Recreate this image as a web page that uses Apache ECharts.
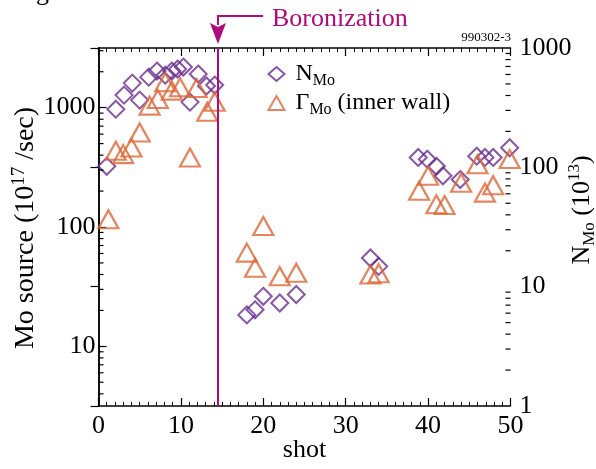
<!DOCTYPE html>
<html>
<head>
<meta charset="utf-8">
<script src="https://cdn.jsdelivr.net/npm/echarts@6/dist/echarts.min.js"></script>
<style>
  html, body { margin: 0; padding: 0; background: #fff; }
  #chart { width: 596px; height: 469px; }
</style>
</head>
<body>
<div id="chart"></div>
<script>
// N_Mo, right axis (10^13)
const nShot = [1.0, 2.1, 3.1, 4.1, 5.0, 6.1, 7.1, 8.1, 8.9, 9.6, 10.3, 11.1, 12.1, 13.1, 14.1,
  18.0, 19.0, 20.0, 22.0, 24.0, 33.0, 34.0,
  38.8, 39.9, 41.0, 41.8, 43.9, 45.9, 46.9, 47.9, 49.9];
const nMo = [102, 307, 403, 508, 366, 570, 641, 593, 641, 666, 692, 352, 605, 480, 489,
  5.8, 6.4, 8.3, 7.3, 8.6, 17.4, 14.8,
  121, 117, 102, 85, 79, 124, 121, 121, 146];

// Gamma_Mo (inner wall), left axis (10^17 /sec)
const gShot = [1.2, 2.1, 3.0, 4.0, 5.0, 6.2, 7.2, 8.1, 8.9, 9.9, 11.1, 11.9, 13.2, 14.1,
  18.0, 19.0, 20.0, 22.0, 24.0, 33.0, 34.0,
  38.9, 40.0, 41.0, 42.0, 44.0, 46.0, 46.9, 47.9, 49.9];
const gMo = [116, 435, 408, 463, 620, 1040, 1183, 1633, 1390, 1483, 382, 1460, 925, 1122,
  61, 45.5, 102, 38.7, 41.3, 40, 41,
  201, 269, 155, 153, 235, 336, 194, 224, 371];

const boronShot = 14.5;

// log minor tick positions
const leftMinor = [4, 5, 6, 7, 8, 9, 20, 30, 40, 50, 60, 70, 80, 90,
  200, 300, 400, 500, 600, 700, 800, 900, 2000, 3000];
const rightMinor = [2, 3, 4, 5, 6, 7, 8, 9, 20, 30, 40, 50, 60, 70, 80, 90,
  200, 300, 400, 500, 600, 700, 800, 900];

const SERIF = '"Liberation Serif", "DejaVu Serif", serif';
const PURPLE = '#6a2c8e';
const ORANGE = '#dd6636';
const MAGENTA = '#b00a7d';

const zip = (xs, ys) => xs.map((x, i) => [x, ys[i]]);
const isPow10 = v => Math.abs(Math.log10(v) - Math.round(Math.log10(v))) < 1e-6;
const logLabel = v => (isPow10(v) ? String(Math.round(v)) : '');

const tickStyle = { inside: true, length: 8, lineStyle: { color: '#000', width: 1.2 } };
const lineStyle = { show: true, lineStyle: { color: '#000', width: 1.5 } };
const labelStyle = { color: '#000', fontSize: 26, fontFamily: SERIF };

function minorTicks(xEdge, dir, yIdx, values) {
  return {
    type: 'custom',
    silent: true,
    xAxisIndex: 0,
    yAxisIndex: yIdx,
    z: 3,
    data: values.map(v => [xEdge, v]),
    renderItem: (params, api) => {
      const p = api.coord([api.value(0), api.value(1)]);
      return {
        type: 'line',
        shape: { x1: p[0], y1: p[1], x2: p[0] + dir * 5, y2: p[1] },
        style: { stroke: '#000', lineWidth: 1.2 }
      };
    }
  };
}

const xAxisBase = {
  type: 'value', min: 0, max: 50, interval: 10,
  axisLine: lineStyle,
  axisTick: tickStyle,
  minorTick: { show: true, splitNumber: 10, length: 4, lineStyle: { color: '#000', width: 1 } },
  splitLine: { show: false }
};

const option = {
  backgroundColor: '#fff',
  animation: false,
  grid: { left: 98.5, right: 85.5, top: 48, bottom: 63, containLabel: false, outerBoundsMode: 'none' },
  legend: {
    orient: 'vertical',
    left: 261,
    top: 57,
    itemGap: 2,
    itemWidth: 16,
    itemHeight: 14,
    data: ['N_Mo', 'Γ_Mo (inner wall)'],
    formatter: name => name === 'N_Mo' ? '{m|N}{s|Mo}' : '{m|Γ}{s|Mo}{m| (inner wall)}',
    textStyle: {
      padding: [0, 0, 0, 6],
      rich: {
        m: { fontSize: 24, fontFamily: SERIF, color: '#000', lineHeight: 30 },
        s: { fontSize: 16, fontFamily: SERIF, color: '#000', verticalAlign: 'bottom', lineHeight: 18 }
      }
    }
  },
  xAxis: [
    Object.assign({}, xAxisBase, {
      position: 'bottom',
      axisLabel: Object.assign({ margin: 7 }, labelStyle),
      name: 'shot',
      nameLocation: 'middle',
      nameGap: 31,
      nameMoveOverlap: false,
      nameTextStyle: labelStyle
    }),
    Object.assign({}, xAxisBase, {
      position: 'top',
      axisLabel: { show: false }
    })
  ],
  yAxis: [
    {
      type: 'log', logBase: 10, min: 3.1623, max: 3162.3,
      position: 'left',
      axisLine: lineStyle,
      axisTick: tickStyle,
      splitLine: { show: false },
      axisLabel: Object.assign({ margin: 3, formatter: logLabel, showMinLabel: false, showMaxLabel: false }, labelStyle),
      name: '{a|Mo source (10}{p|17}{a| /sec)}',
      nameLocation: 'middle',
      nameGap: 57,
      nameMoveOverlap: false,
      nameTextStyle: {
        padding: [0, 2, 0, 0],
        rich: {
          a: { fontSize: 28, fontFamily: SERIF, color: '#000', lineHeight: 32 },
          p: { fontSize: 19, fontFamily: SERIF, color: '#000', verticalAlign: 'top', lineHeight: 18 }
        }
      }
    },
    {
      type: 'log', logBase: 10, min: 1, max: 1000,
      position: 'right',
      axisLine: lineStyle,
      axisTick: tickStyle,
      splitLine: { show: false },
      axisLabel: Object.assign({ margin: 9, formatter: logLabel }, labelStyle),
      name: '{a|N}{b|Mo}{a| (10}{p|13}{a|)}',
      nameLocation: 'middle',
      nameGap: 56,
      nameMoveOverlap: false,
      nameTextStyle: {
        padding: [0, 0, 0, 34],
        rich: {
          a: { fontSize: 26, fontFamily: SERIF, color: '#000', lineHeight: 32 },
          b: { fontSize: 17, fontFamily: SERIF, color: '#000', verticalAlign: 'bottom', lineHeight: 18 },
          p: { fontSize: 17, fontFamily: SERIF, color: '#000', verticalAlign: 'top', lineHeight: 18 }
        }
      }
    }
  ],
  series: [
    {
      name: 'N_Mo',
      type: 'scatter',
      xAxisIndex: 0,
      yAxisIndex: 1,
      symbol: 'diamond',
      symbolSize: 17,
      itemStyle: { color: 'none', borderColor: PURPLE, borderWidth: 2 },
      data: zip(nShot, nMo),
      markLine: {
        silent: true,
        symbol: ['none', 'none'],
        label: { show: false },
        lineStyle: { color: MAGENTA, width: 2, type: 'solid' },
        data: [{ xAxis: boronShot }]
      }
    },
    {
      name: 'Γ_Mo (inner wall)',
      type: 'scatter',
      xAxisIndex: 0,
      yAxisIndex: 0,
      symbol: 'triangle',
      symbolSize: [20, 18],
      itemStyle: { color: 'none', borderColor: ORANGE, borderWidth: 2.2 },
      data: zip(gShot, gMo)
    },
    minorTicks(0, 1, 0, leftMinor),
    minorTicks(50, -1, 1, rightMinor)
  ]
};

const chart = echarts.init(document.getElementById('chart'), null, { renderer: 'canvas' });
chart.setOption(option);

// Boronization annotation above the plot, anchored to the marker line
const bx = chart.convertToPixel({ xAxisIndex: 0 }, boronShot);
chart.setOption({
  graphic: [
    {
      type: 'polyline',
      shape: { points: [[bx + 45, 16], [bx, 16], [bx, 25]] },
      style: { stroke: MAGENTA, lineWidth: 2, fill: null }
    },
    {
      type: 'polygon',
      shape: { points: [[bx - 8, 23], [bx, 27], [bx + 8, 23], [bx, 44]] },
      style: { fill: MAGENTA }
    },
    {
      type: 'text',
      x: bx + 54, y: 19,
      style: { text: 'Boronization', fill: MAGENTA, font: '26px ' + SERIF, verticalAlign: 'middle' }
    },
    {
      type: 'text',
      x: 511, y: 38,
      style: { text: '990302-3', fill: '#000', font: '13px ' + SERIF, align: 'right', verticalAlign: 'middle' }
    },
    {
      type: 'text',
      x: 36, y: -20,
      style: { text: 'g', fill: '#000', font: '26px ' + SERIF, verticalAlign: 'top' }
    }
  ]
});
</script>
</body>
</html>
